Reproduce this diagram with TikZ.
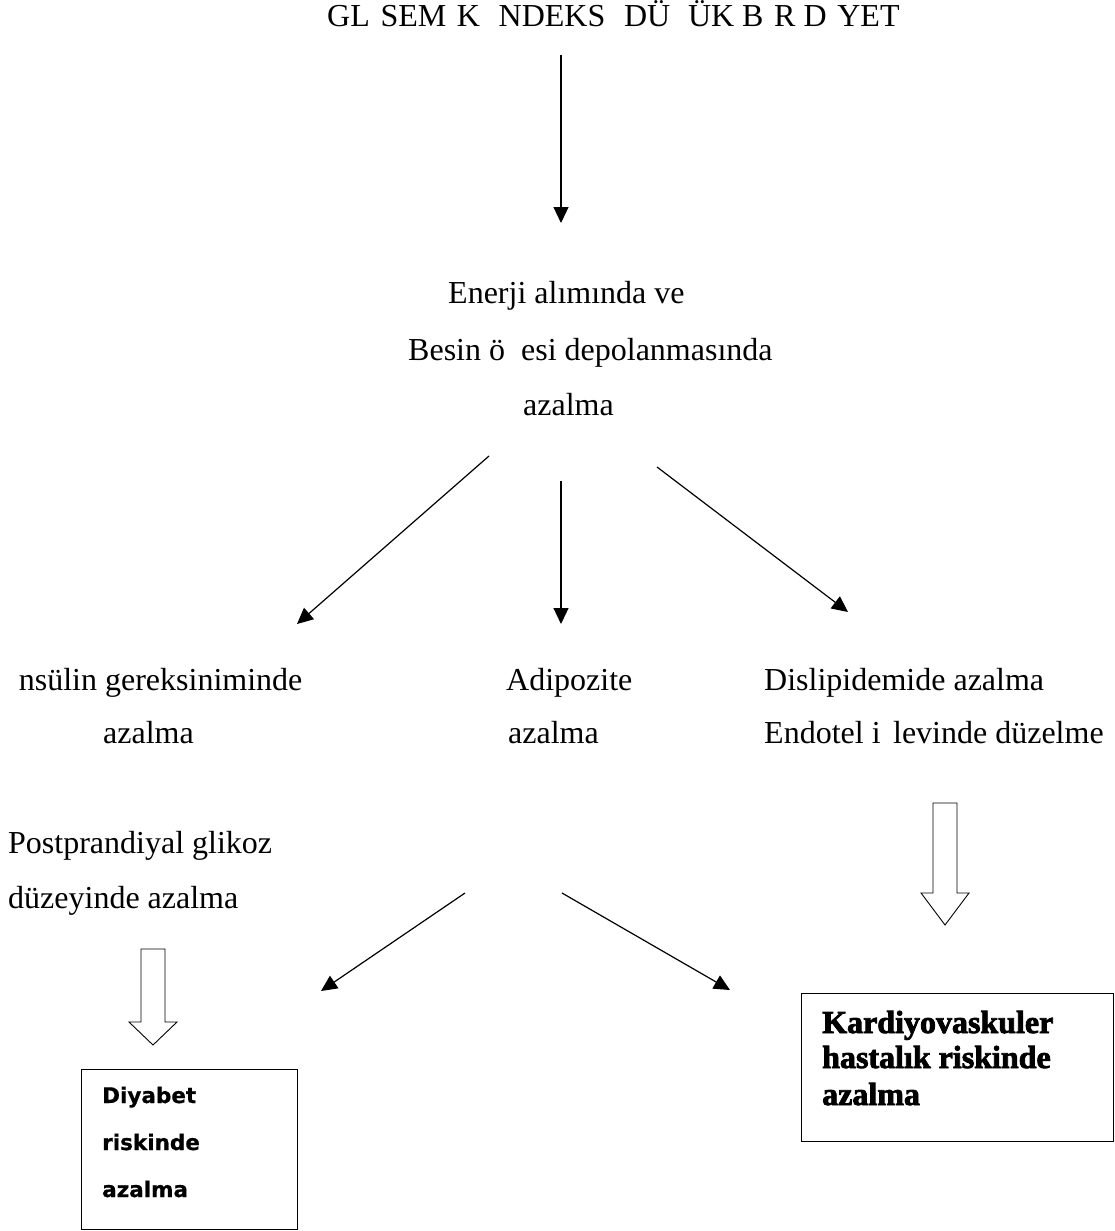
\documentclass[tikz,border=0pt]{standalone}
\usepackage{fontspec}
\setmainfont{Liberation Serif}
\newfontfamily\riskfont{DejaVu Sans}[BoldFeatures={FakeBold=0.6}]
\newfontfamily\kalinfont{Liberation Serif}[BoldFeatures={FakeBold=2.5}]
\usepackage{tikz}
\usetikzlibrary{arrows.meta}

\tikzset{
	metin/.style={anchor=base west, inner sep=0pt, font=\fontsize{32}{55}\selectfont},
	riskmetin/.style={anchor=base west, inner sep=0pt, font=\riskfont\bfseries\fontsize{21.5}{47}\selectfont},
	kardmetin/.style={anchor=base west, inner sep=0pt, font=\kalinfont\bfseries\fontsize{32}{36}\selectfont},
	ok/.style={-{Triangle[length=16pt,width=15pt]}, line width=1.2pt},
	kutu/.style={draw, anchor=north west, inner sep=0pt, line width=1pt},
	bosok/.style={draw, line width=0.9pt, fill=white}
}

\begin{document}
\begin{tikzpicture}[x=1pt, y=-1pt]
	\useasboundingbox (0,0) rectangle (1115,1231);
	
	% baslik
	\node[metin] (baslik) at (327,27) {GL\phantom{İ}SEM\phantom{İ}K \phantom{İ}NDEKS\phantom{İ} DÜ\phantom{Ş}ÜK B\phantom{İ}R D\phantom{İ}YET};
	
	% enerji alimi
	\node[metin] (enerji1) at (448,303) {Enerji alımında ve};
	\node[metin] (enerji2) at (408,360) {Besin ö\phantom{ğ}esi depolanmasında};
	\node[metin] (enerji3) at (523,415) {azalma};
	
	% ikinci sira
	\node[metin] (insulin1) at (8,690) {\phantom{İ}nsülin gereksiniminde};
	\node[metin] (insulin2) at (103,743) {azalma};
	\node[metin] (adipo1) at (506,690) {Adipozite};
	\node[metin] (adipo2) at (508,743) {azalma};
	\node[metin] (dislip1) at (764,690) {Dislipidemide azalma};
	\node[metin] (dislip2) at (764,743) {Endotel i\phantom{ş}levinde düzelme};
	\node[metin] (glikoz1) at (8,853) {Postprandiyal glikoz};
	\node[metin] (glikoz2) at (8,908) {düzeyinde azalma};
	
	% sonuc kutulari
	\node[kutu, minimum width=216pt, minimum height=160pt] (diyabet) at (81,1069) {};
	\foreach \t/\y in {Diyabet/1103, riskinde/1150, azalma/1197}
	\node[riskmetin] (diyabet\y) at (102,\y) {\t};
	\node[kutu, minimum width=312pt, minimum height=148pt] (kardiyo) at (801,993) {};
	\foreach \t/\y in {Kardiyovaskuler/1033, hastalık riskinde/1068, azalma/1105}
	\node[kardmetin] (kardiyo\y) at (822,\y) {\t};
	
	% ok uclari
	\coordinate (u1) at (561,55);   \coordinate (v1) at (561,223);
	\coordinate (u2) at (489,456);  \coordinate (v2) at (297,624);
	\coordinate (u3) at (561,481);  \coordinate (v3) at (561,624);
	\coordinate (u4) at (657,467);  \coordinate (v4) at (848,612);
	\coordinate (u5) at (465,893);  \coordinate (v5) at (321,991);
	\coordinate (u6) at (562,893);  \coordinate (v6) at (730,990);
	\foreach \i in {1,...,6}
	\draw[ok] (u\i) -- (v\i);
	
	% bos oklar
	\draw[bosok] (141,949) -- (165,949) -- (165,1022) -- (177,1022) -- (153,1045) -- (129,1022) -- (141,1022) -- cycle;
	\draw[bosok] (933,803) -- (957,803) -- (957,893) -- (969,893) -- (945,925) -- (921,893) -- (933,893) -- cycle;
	
\end{tikzpicture}
\end{document}
